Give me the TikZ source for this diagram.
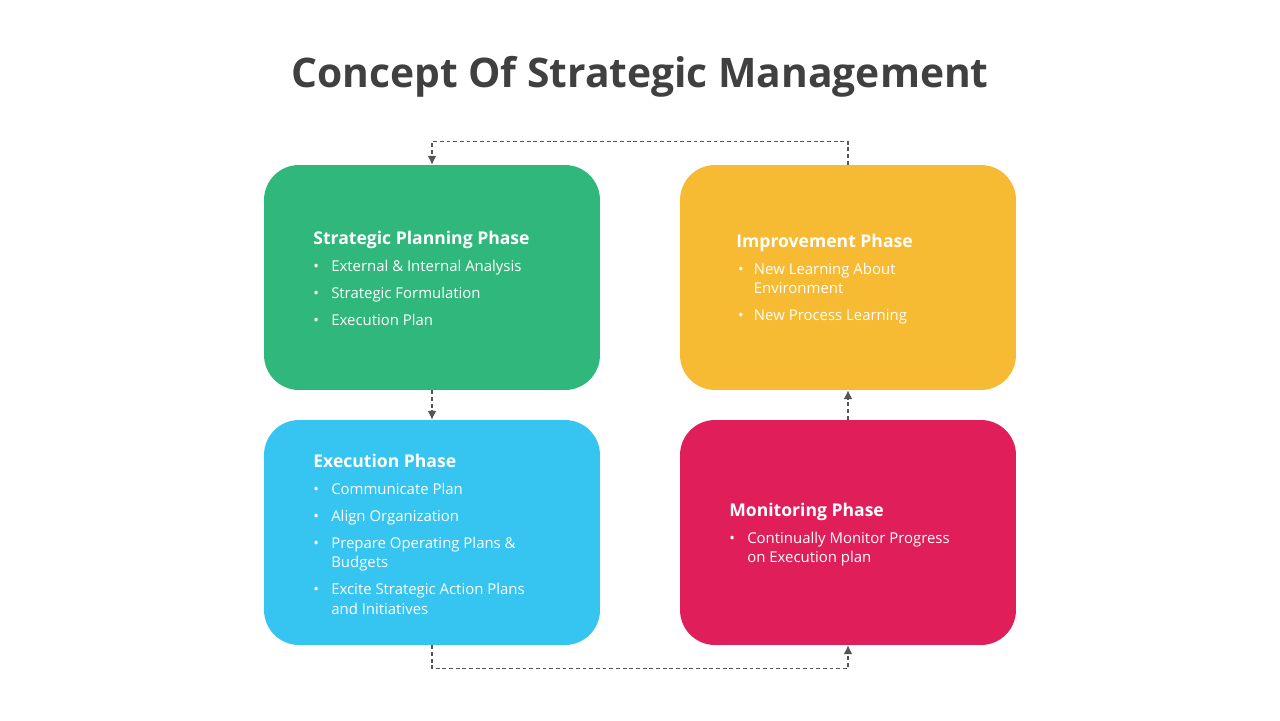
\documentclass[tikz,border=0pt]{standalone}
\usepackage{fontspec}
\setmainfont{Open Sans}
\usepackage{tikz}
\usetikzlibrary{positioning,arrows.meta}

\definecolor{plangreen}{HTML}{30B77C}
\definecolor{execblue}{HTML}{36C4F0}
\definecolor{imprgold}{HTML}{F7BA33}
\definecolor{monitred}{HTML}{E01E5A}
\definecolor{titlegray}{HTML}{404040}
\definecolor{linkgray}{HTML}{555555}

\tikzset{
  phase/.style={rounded corners=0.7cm,minimum width=6.72cm,minimum height=4.5cm,inner sep=0pt},
  phasehead/.style={anchor=west,inner sep=0pt,text=white,font=\fontsize{10}{12}\selectfont\bfseries},
  items/.style={inner sep=0pt,text=white,font=\fontsize{8.5}{11.2}\selectfont,align=left},
  link/.style={draw=linkgray,line width=0.6pt,dash pattern=on 2.2pt off 1.6pt,-{Latex[length=5pt,width=5pt]}}
}
\newcommand{\bul}{\textbullet}

\begin{document}
\begin{tikzpicture}[x=0.02cm,y=-0.02cm]
\useasboundingbox[fill=white] (0,0) rectangle (1280,720);

\node[text=titlegray,font=\fontsize{23.2}{27}\selectfont\bfseries] (title) at (640,77) {Concept Of Strategic Management};

% the four phases
\node[phase,fill=plangreen] (plan) at (432,277.5) {};
\node[phase,fill=execblue] (exec) at (432,532.5) {};
\node[phase,fill=imprgold] (impr) at (848,277.5) {};
\node[phase,fill=monitred] (monit) at (848,532.5) {};

% texts
\node[phasehead] (planhead) at (313,239.5) {Strategic Planning Phase};
\node[items,below right=7.3pt and 0pt of planhead.base west] (planitems) {%
\begin{tabular}{@{}p{10.2pt}@{}l@{}}
\bul & External \& Internal Analysis\\[4.2pt]
\bul & Strategic Formulation\\[4.2pt]
\bul & Execution Plan
\end{tabular}};

\node[phasehead] (exechead) at (313,460.5) {Execution Phase};
\node[items,below right=7.3pt and 0pt of exechead.base west] (execitems) {%
\begin{tabular}{@{}p{10.2pt}@{}l@{}}
\bul & Communicate Plan\\[4.2pt]
\bul & Align Organization\\[4.2pt]
\bul & Prepare Operating Plans \&\\
     & Budgets\\[4.2pt]
\bul & Excite Strategic Action Plans\\
     & and Initiatives
\end{tabular}};

\node[phasehead] (imprhead) at (736,242.5) {Improvement Phase};
\node[items,below right=7.3pt and 1pt of imprhead.base west] (impritems) {%
\begin{tabular}{@{}p{9pt}@{}l@{}}
\bul & New Learning About\\
     & Environment\\[4.2pt]
\bul & New Process Learning
\end{tabular}};

\node[phasehead] (monithead) at (729,511.5) {Monitoring Phase};
\node[items,below right=7.3pt and 0pt of monithead.base west] (monititems) {%
\begin{tabular}{@{}p{10.2pt}@{}l@{}}
\bul & Continually Monitor Progress\\
     & on Execution plan
\end{tabular}};

% the cycle
\draw[link] (impr.north) -- ++(0,-23) -| (plan.north);
\draw[link] (plan.south) -- (exec.north);
\draw[link] (exec.south) -- ++(0,23) -| (monit.south);
\draw[link] (monit.north) -- (impr.south);
\end{tikzpicture}
\end{document}
